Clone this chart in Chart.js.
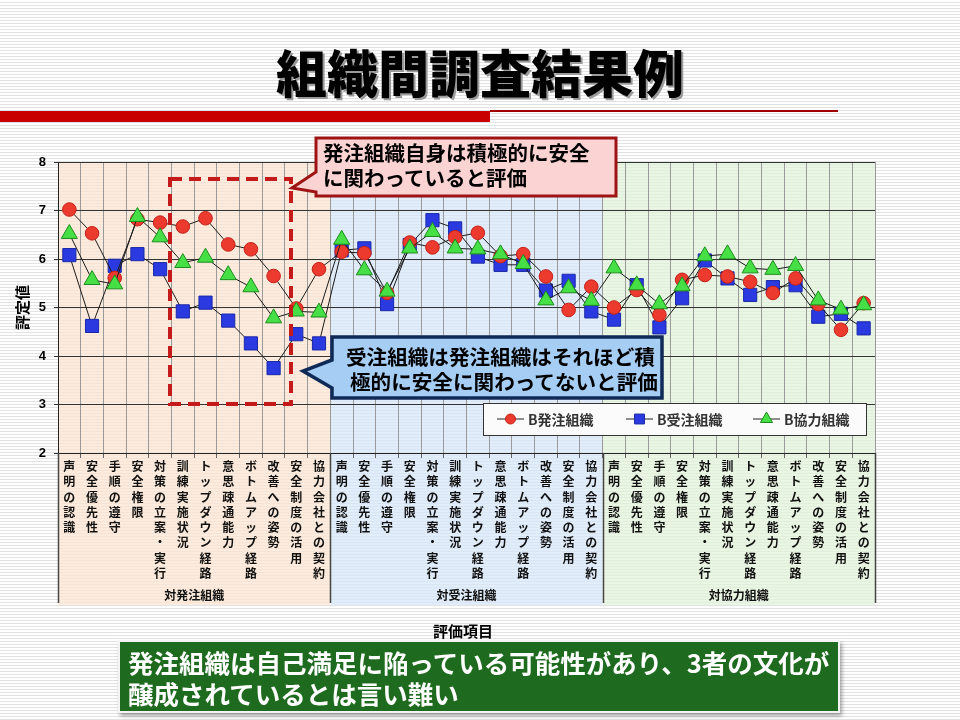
<!DOCTYPE html>
<html lang="ja">
<head>
<meta charset="utf-8">
<script src="https://cdn.jsdelivr.net/npm/chart.js@4.4.1/dist/chart.umd.min.js"></script>
<style>
  html, body { margin: 0; padding: 0; }
  body {
    width: 960px; height: 720px; position: relative; overflow: hidden;
    font-family: "Noto Sans CJK JP", sans-serif;
    background: repeating-linear-gradient(to bottom, #ffffff 0px, #ffffff 2px, #e2e2e2 2px, #e2e2e2 3px);
  }
  #wrap { position: absolute; left: 0; top: 0; width: 960px; height: 720px; }
  #title {
    position: absolute; left: 0; width: 960px; top: 34px; text-align: center;
    font-size: 51px; font-weight: 900; color: #000;
    text-shadow: 2px 2px 0 #9a9a9a;
  }
  #redbar { position: absolute; left: 0; top: 111px; width: 490px; height: 11px; background: #c80000; }
  #redline { position: absolute; left: 490px; top: 110px; width: 348px; height: 2px; background: #a00000; }
  #xtitle { position: absolute; left: 413px; width: 100px; top: 620px; text-align: center;
    font-size: 15px; font-weight: bold; color: #000; }
  #note {
    position: absolute; left: 118px; top: 640px; width: 722px; height: 73px; box-sizing: border-box;
    background: #1e6a1e; border: 2px solid #f4f4f4; box-shadow: 2px 3px 4px rgba(0,0,0,0.35);
    color: #fff; font-size: 25.5px; font-weight: bold; line-height: 31px; padding: 4px 0 0 8px;
  }
  svg { position: absolute; left: 0; top: 0; }
</style>
</head>
<body>
<div id="title">組織間調査結果例</div>
<div id="redbar"></div>
<div id="redline"></div>
<div id="wrap"><canvas id="chart"></canvas></div>
<svg width="960" height="720">
  <rect x="170" y="179" width="121" height="225" fill="none" stroke="#c41a1a" stroke-width="4" stroke-dasharray="12,7"/>
  <path d="M316,138 L616,138 L616,196 L316,196 L316,192 L292,188 L316,172 Z" fill="#fcd3d3" stroke="#9e1414" stroke-width="3" stroke-linejoin="miter"/>
  <text x="323" y="161" font-size="20.5" font-weight="bold" fill="#000">発注組織自身は積極的に安全</text>
  <text x="323" y="186" font-size="20.5" font-weight="bold" fill="#000">に関わっていると評価</text>
  <path d="M332,337 L662,337 L662,398 L332,398 L332,388 L303,371 L332,360 Z" fill="#a6cdf3" stroke="#102a58" stroke-width="3.5" stroke-linejoin="miter"/>
  <text x="346" y="365" font-size="20.6" font-weight="bold" fill="#000">受注組織は発注組織はそれほど積</text>
  <text x="350" y="390" font-size="20.6" font-weight="bold" fill="#000">極的に安全に関わってないと評価</text>
</svg>
<div id="xtitle">評価項目</div>
<div id="note">発注組織は自己満足に陥っている可能性があり、3者の文化が<br>醸成されているとは言い難い</div>
<script>
// 評価項目 (same 12 items for each target group)
const itemNames = ["声明の認識", "安全優先性", "手順の遵守", "安全権限", "対策の立案・実行", "訓練実施状況",
  "トップダウン経路", "意思疎通能力", "ボトムアップ経路", "改善への姿勢", "安全制度の活用", "協力会社との契約"];
const groupNames = ["対発注組織", "対受注組織", "対協力組織"];
const seriesNames = ["B発注組織", "B受注組織", "B協力組織"];
const yTicks = [2, 3, 4, 5, 6, 7, 8];

// 評定値
const hatchuValues = [7.02, 6.53, 5.61, 6.82, 6.75, 6.67, 6.84, 6.30, 6.20, 5.65, 4.98, 5.79,
  6.15, 6.12, 5.30, 6.34, 6.24, 6.45, 6.54, 6.06, 6.10, 5.64, 4.95, 5.43,
  5.00, 5.36, 4.85, 5.57, 5.67, 5.64, 5.53, 5.30, 5.60, 5.07, 4.54, 5.09];
const juchuValues = [6.08, 4.62, 5.86, 6.10, 5.79, 4.92, 5.10, 4.73, 4.26, 3.75, 4.45, 4.26,
  6.18, 6.22, 5.07, 6.29, 6.80, 6.63, 6.05, 5.88, 5.88, 5.35, 5.55, 4.92,
  4.75, 5.46, 4.59, 5.19, 5.97, 5.60, 5.26, 5.42, 5.46, 4.81, 4.87, 4.57];
const kyoryokuValues = [6.52, 5.57, 5.48, 6.87, 6.45, 5.92, 6.03, 5.67, 5.42, 4.78, 4.92, 4.90,
  6.40, 5.77, 5.33, 6.22, 6.56, 6.22, 6.20, 6.10, 5.90, 5.15, 5.40, 5.14,
  5.81, 5.46, 5.07, 5.44, 6.06, 6.10, 5.81, 5.78, 5.86, 5.15, 4.96, 5.05];

const categories = [];
groupNames.forEach(() => itemNames.forEach(n => categories.push(n)));

const groupFills = ["rgba(252,228,208,0.72)", "rgba(214,230,248,0.72)", "rgba(224,242,216,0.72)"];
const jp = '"Noto Sans CJK JP", sans-serif';

function marker(ctx, style, x, y, r, fill, stroke) {
  ctx.save();
  ctx.fillStyle = fill; ctx.strokeStyle = stroke; ctx.lineWidth = 1;
  ctx.beginPath();
  if (style === "circle") ctx.arc(x, y, r, 0, Math.PI * 2);
  else if (style === "rect") { const s = r / Math.SQRT2; ctx.rect(x - s, y - s, 2 * s, 2 * s); }
  else { ctx.moveTo(x, y - r); ctx.lineTo(x + r * 0.866, y + r * 0.5); ctx.lineTo(x - r * 0.866, y + r * 0.5); ctx.closePath(); }
  ctx.fill(); ctx.stroke();
  ctx.restore();
}

const groupPlugin = {
  id: "groups",
  beforeDraw(chart) {
    const { ctx, chartArea: a, scales: { x } } = chart;
    const colW = (a.right - a.left) / categories.length;
    const bottom = a.bottom + x.height;
    groupNames.forEach((g, i) => {
      ctx.fillStyle = groupFills[i];
      ctx.fillRect(a.left + i * 12 * colW, a.top, 12 * colW, bottom - a.top);
    });
  },
  afterDraw(chart) {
    const { ctx, chartArea: a, scales: { x } } = chart;
    const colW = (a.right - a.left) / categories.length;
    const bottom = a.bottom + x.height;
    ctx.save();
    ctx.strokeStyle = "#444"; ctx.lineWidth = 1.5;
    for (let i = 0; i <= groupNames.length; i++) {
      const px = Math.round(a.left + i * 12 * colW) + 0.5;
      ctx.beginPath(); ctx.moveTo(px, a.bottom); ctx.lineTo(px, bottom - 2); ctx.stroke();
    }
    ctx.fillStyle = "#111"; ctx.font = "bold 12px " + jp;
    ctx.textAlign = "center"; ctx.textBaseline = "middle";
    groupNames.forEach((g, i) => ctx.fillText(g, a.left + (i * 12 + 6) * colW, bottom - 10));

    // legend
    const lx = 483, ly = 403, lw = 383, lh = 32;
    ctx.fillStyle = "#fbfbfb"; ctx.fillRect(lx, ly, lw, lh);
    ctx.strokeStyle = "#333"; ctx.lineWidth = 1; ctx.strokeRect(lx + 0.5, ly + 0.5, lw, lh);
    const starts = [497, 626, 753];
    ctx.font = "bold 14px " + jp; ctx.textAlign = "left";
    chart.data.datasets.forEach((ds, i) => {
      const sx = starts[i], cy = ly + 16;
      ctx.strokeStyle = "#222"; ctx.lineWidth = 1;
      ctx.beginPath(); ctx.moveTo(sx, cy); ctx.lineTo(sx + 27, cy); ctx.stroke();
      marker(ctx, ds.pointStyle, sx + 13.5, cy, ds.pointStyle === "circle" ? 5 : 7, ds.pointBackgroundColor, ds.pointBorderColor);
      ctx.fillStyle = "#333";
      ctx.fillText(ds.label, sx + 31, cy + 1);
    });
    ctx.restore();
  }
};

const makeSet = (label, data, style, fill, stroke, radius, order) => ({
  label, data, order,
  borderColor: "#1a1a1a", borderWidth: 1,
  pointStyle: style, pointRadius: radius, pointHoverRadius: radius,
  pointBackgroundColor: fill, pointBorderColor: stroke, pointBorderWidth: 1,
  tension: 0, fill: false
});

new Chart(document.getElementById("chart"), {
  type: "line",
  data: {
    labels: categories,
    datasets: [
      makeSet(seriesNames[0], hatchuValues, "circle", "#ec3a2e", "#c42018", 6.8, 1),
      makeSet(seriesNames[1], juchuValues, "rect", "#2a3ae0", "#1a28a8", 9.3, 2),
      makeSet(seriesNames[2], kyoryokuValues, "triangle", "#46e046", "#1d8c1d", 9.3, 0)
    ]
  },
  options: {
    responsive: true, maintainAspectRatio: false, animation: false,
    layout: { padding: { left: 0, right: 85, top: 162, bottom: 115 } },
    plugins: { legend: { display: false }, tooltip: { enabled: false } },
    scales: {
      x: {
        type: "category", offset: true,
        grid: { offset: true, color: "#9a9a9a", lineWidth: 1, tickLength: 5, tickColor: "#666" },
        border: { color: "#222", width: 1 },
        ticks: {
          autoSkip: false, maxRotation: 0, minRotation: 0, padding: 1, color: "#111",
          font: { family: jp, size: 12, weight: "bold", lineHeight: 1.27 },
          callback: function (v) { return Array.from(this.getLabelForValue(v)); }
        },
        afterFit: s => { s.height = 152; }
      },
      y: {
        min: 2, max: 8,
        afterBuildTicks: s => { s.ticks = yTicks.map(v => ({ value: v })); },
        grid: { color: "#333", lineWidth: 1, tickLength: 4 },
        border: { color: "#222", width: 1 },
        ticks: { padding: 8, color: "#000", font: { family: '"Liberation Sans", sans-serif', size: 13, weight: "bold" } },
        title: { display: true, text: "評定値", color: "#000", padding: { top: 13, bottom: 0 },
          font: { family: jp, size: 15, weight: "bold" } },
        afterFit: s => { s.width = 58; }
      }
    }
  },
  plugins: [groupPlugin]
});
</script>
</body>
</html>
